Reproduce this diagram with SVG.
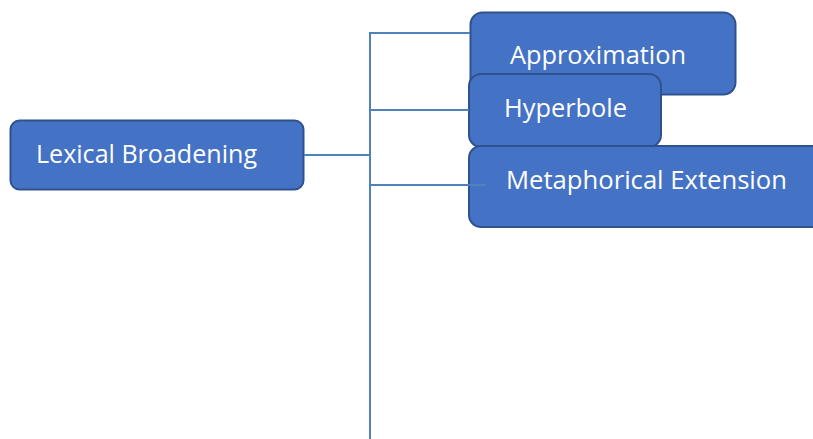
<svg xmlns="http://www.w3.org/2000/svg" width="813" height="439" viewBox="0 0 813 439">
<style>
.box{fill:#4472C4;stroke:#2F528F;stroke-width:2}
.lbl{font-family:"Open Sans","Liberation Sans",Arial,sans-serif;font-size:25px;fill:#FFFFFF}
.con{stroke:#4F81BD;stroke-width:2;fill:none}
</style>
<rect width="813" height="439" fill="#FFFFFF"/>
<g id="node-lexical">
<rect class="box" x="10.5" y="120.5" width="293" height="69" rx="9"/>
<text class="lbl" x="36" y="163" textLength="221" lengthAdjust="spacingAndGlyphs">Lexical Broadening</text>
</g>
<g id="node-approximation">
<rect class="box" x="470.5" y="12.5" width="265" height="82" rx="12"/>
<text class="lbl" x="510" y="64" textLength="176" lengthAdjust="spacingAndGlyphs">Approximation</text>
</g>
<g id="node-hyperbole">
<rect class="box" x="469" y="74" width="192" height="73" rx="12"/>
<text class="lbl" x="504" y="117" textLength="123" lengthAdjust="spacingAndGlyphs">Hyperbole</text>
</g>
<g id="node-metaphorical">
<rect class="box" x="469" y="146" width="360" height="81" rx="12"/>
<text class="lbl" x="506" y="189" textLength="281" lengthAdjust="spacingAndGlyphs">Metaphorical Extension</text>
</g>
<g id="connectors">
<line class="con" x1="304" y1="155" x2="370" y2="155"/>
<line class="con" x1="370" y1="33" x2="370" y2="439"/>
<line class="con" x1="369" y1="33" x2="470" y2="33"/>
<line class="con" x1="369" y1="110" x2="469" y2="110"/>
<line class="con" x1="369" y1="185" x2="486" y2="185"/>
</g>
</svg>
